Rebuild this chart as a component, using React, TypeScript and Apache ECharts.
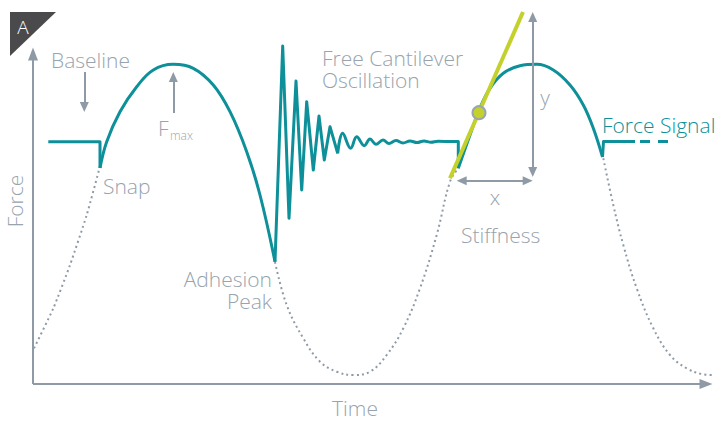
import React, { useEffect, useRef } from "react";
import * as echarts from "echarts";

// Units: time (x) and force (y), origin at the axes' corner.
const baselineBefore: number[][] = [[15.3, 242.3], [67, 242.3], [67, 216]];
const approachHump: number[][] = [
  [67, 216], [73.7, 242.3], [87, 272.3], [103.7, 297.3], [120.3, 314], [140.3, 319.7],
  [160.3, 315.7], [180.3, 299], [197, 272.3], [213.7, 232.3], [227, 189], [242, 122.3],
];
const releaseSpikes: number[][] = [
  [242, 122.3], [249.7, 338], [256, 165.7], [263, 303], [268.7, 194], [273.7, 282.3],
  [280.3, 214], [286, 268], [291.3, 224], [297, 257.3], [304.7, 230.7],
];
const ringDown: number[][] = [
  [304.7, 230.7], [309.7, 250.7], [317.7, 235.7], [323.7, 247.3], [331.3, 238.3], [337, 245],
  [343, 239.7], [350, 244], [356, 240.5], [363, 243.5], [370, 241], [377, 243], [384, 241.5],
  [391, 243], [398, 241.7], [405, 242.7], [412, 242.5],
];
const baselineBetween: number[][] = [[412, 242.5], [425.3, 242.5], [425.3, 215.7]];
const secondHump: number[][] = [
  [425.3, 215.7], [437, 249], [447, 276], [457, 295.7], [470.3, 310.7], [487, 318.3],
  [503.7, 319.7], [520.3, 314], [537, 299], [550.3, 279], [560.3, 255.7], [569.5, 227],
];
const baselineAfter: number[][] = [[569.5, 227], [570.5, 242.5], [602, 242.5]];
const baselineDashed: number[][] = [[607, 242.5], [637, 242.5]];

const driveLeft: number[][] = [[1, 35.7], [20.3, 75.7], [37, 119], [53.7, 169], [66, 214]];
const driveMiddle: number[][] = [
  [242, 122], [253.7, 79], [270.3, 45.7], [287, 22.3], [303.7, 12.3], [320.3, 9], [337, 12.3],
  [353.7, 29], [370.3, 55.7], [387, 95.7], [403.7, 149], [417, 202.3], [425.3, 215.7],
];
const driveRight: number[][] = [
  [570.3, 225.7], [580.3, 179], [590.3, 139], [603.7, 95.7], [620.3, 55.7], [637, 29],
  [653.7, 15.7], [670.3, 9.7], [680.3, 9],
];

const tangentLine: number[][] = [[417, 205.7], [490, 372]];
const contactPoint: number[][] = [[446, 271.3]];

// Annotation arrows: [from, to]
const axisX = [[0, 0], [673, 0]];
const axisY = [[0, 0], [0, 330]];
const baselineArrow = [[51.3, 312], [51.3, 277]];
const fmaxArrow = [[140.3, 271], [140.3, 307]];
const yDim = [[499.7, 212], [499.7, 367]];
const xDim = [[428.7, 203.3], [494.7, 203.3]];

const TEAL = "#0d9099";
const GRAY = "#8e9ba6";
const TEXT = "#97a3ad";
const LIME = "#c4d12c";
const FONT_FAMILY = '"Open Sans", sans-serif';

export default function App() {
  const ref = useRef<HTMLDivElement>(null);
  useEffect(() => {
    if (!ref.current) return;
    const chart = echarts.init(ref.current, null, { renderer: "svg" });

    const tri = (w: number, h: number) => ({ symbol: "triangle", symbolSize: [w, h] });
    const arrowOne = (pts: number[][], w: number, h: number) => [
      { coord: pts[0], symbol: "none" },
      { coord: pts[1], ...tri(w, h) },
    ];
    const arrowBoth = (pts: number[][], w: number, h: number) => [
      { coord: pts[0], ...tri(w, h) },
      { coord: pts[1], ...tri(w, h) },
    ];

    const teal = (data: number[][], smooth: number | boolean, z = 3, type: any = "solid") => ({
      type: "line",
      data,
      smooth,
      showSymbol: false,
      silent: true,
      clip: false,
      z,
      lineStyle: { color: TEAL, width: 3, type, join: "round", cap: "butt" },
    });
    const dotted = (data: number[][], extra: any = {}) => ({
      type: "line",
      data,
      smooth: 0.4,
      showSymbol: false,
      silent: true,
      clip: false,
      z: 1,
      lineStyle: { color: GRAY, width: 2, type: [2, 3.2] },
      ...extra,
    });

    const txt = (text: string, x: number, y: number, align: string, extra: any = {}) => ({
      type: "text",
      x,
      y,
      z: 10,
      silent: true,
      style: {
        text,
        fill: TEXT,
        fontSize: 21,
        fontWeight: 300,
        fontFamily: FONT_FAMILY,
        lineHeight: 22,
        align,
        textAlign: align,
        verticalAlign: "middle",
        textVerticalAlign: "middle",
        ...extra,
      },
    });

    chart.setOption({
      animation: false,
      grid: { left: 0, right: 0, top: 0, bottom: 0 },
      xAxis: { type: "value", min: -33, max: 695, show: false },
      yAxis: { type: "value", min: -37, max: 384, show: false },
      series: [
        dotted(driveLeft, {
          smooth: 0.2,
          markLine: {
            silent: true,
            animation: false,
            symbolSize: 10,
            label: { show: false },
            emphasis: { disabled: true },
            lineStyle: { color: GRAY, width: 2, type: "solid" },
            data: [
              arrowOne(axisX, 10, 13),
              arrowOne(axisY, 10, 13),
              arrowOne(baselineArrow, 9, 10),
              arrowOne(fmaxArrow, 9, 10),
              arrowBoth(yDim, 9, 10),
              arrowBoth(xDim, 9, 10),
            ],
          },
        }),
        dotted(driveMiddle),
        dotted(driveRight),
        teal(baselineBefore, false),
        teal(approachHump, 0.4),
        teal(releaseSpikes, false),
        teal(ringDown, 0.4),
        teal(baselineBetween, false),
        teal(secondHump, 0.4),
        teal(baselineAfter, false),
        teal(baselineDashed, false, 3, [10, 8]),
        {
          type: "line",
          data: tangentLine,
          showSymbol: false,
          silent: true,
          clip: false,
          z: 5,
          lineStyle: { color: LIME, width: 4 },
        },
        {
          type: "scatter",
          data: contactPoint,
          symbolSize: 13,
          silent: true,
          clip: false,
          z: 6,
          itemStyle: { color: LIME, borderColor: "#9aa5ae", borderWidth: 2, opacity: 1 },
        },
      ],
      graphic: [
        {
          type: "polygon",
          silent: true,
          z: 10,
          shape: { points: [[10, 12], [56, 12], [10, 56]] },
          style: { fill: "#4a4a4c" },
        },
        txt("A", 23, 27, "center", { fill: "#ffffff", fontSize: 19 }),
        txt("Baseline", 51, 60, "left"),
        txt("F", 158, 128, "left"),
        txt("max", 170, 135, "left", { fontSize: 12 }),
        txt("Snap", 103, 186, "left"),
        txt("Adhesion\nPeak", 272, 290, "right"),
        txt("Free Cantilever\nOscillation", 322, 69, "left"),
        txt("y", 545, 97, "center"),
        txt("x", 495, 197, "center"),
        txt("Stiffness", 461, 235, "left"),
        txt("Force Signal", 602, 125, "left", { fill: TEAL }),
        txt("Time", 355, 408, "center"),
        { ...txt("Force", 15, 201, "center"), rotation: Math.PI / 2 },
      ],
    });
    return () => chart.dispose();
  }, []);
  return (
    <div
      ref={ref}
      style={{ position: "fixed", left: 0, top: 0, width: 728, height: 421, background: "#fff" }}
    />
  );
}
